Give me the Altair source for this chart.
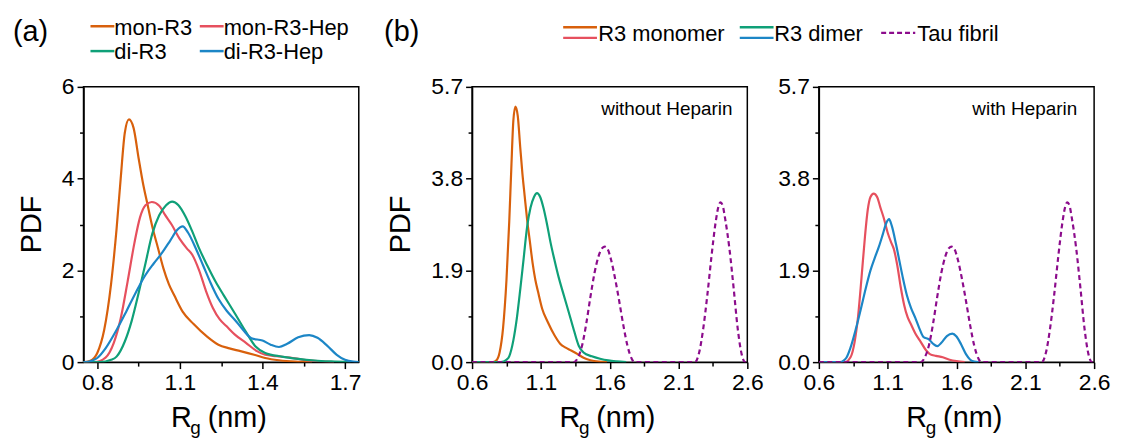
import json
import altair as alt
import pandas as pd

# ---------------- data ----------------
rg_mon = [0.60, 0.75, 0.775, 0.80, 0.825, 0.85, 0.87, 0.885, 0.90, 0.915, 0.932, 0.95, 0.966, 0.982,
          1.00, 1.02, 1.04, 1.06, 1.08, 1.11, 1.15, 1.20, 1.24, 1.28, 1.32, 1.37, 1.41, 1.46, 1.52, 1.58]
pdf_mon = [0, 0, 0.03, 0.2, 0.7, 1.7, 2.9, 4.0, 5.0, 5.29, 5.1, 4.45, 3.9, 3.45,
           2.95, 2.5, 2.05, 1.7, 1.45, 1.1, 0.83, 0.55, 0.38, 0.3, 0.24, 0.16, 0.09, 0.04, 0.01, 0]

rg_mon_hep = [0.60, 0.79, 0.83, 0.86, 0.885, 0.91, 0.935, 0.955, 0.975, 0.998, 1.025, 1.045, 1.07, 1.10,
              1.125, 1.145, 1.17, 1.195, 1.22, 1.245, 1.27, 1.30, 1.34, 1.38, 1.41, 1.45, 1.50, 1.55, 1.60, 1.66]
pdf_mon_hep = [0, 0, 0.1, 0.42, 0.95, 1.75, 2.6, 3.15, 3.42, 3.49, 3.41, 3.22, 3.0, 2.68,
               2.48, 2.34, 2.0, 1.55, 1.18, 0.93, 0.78, 0.6, 0.42, 0.24, 0.16, 0.13, 0.1, 0.05, 0.02, 0]

rg_di = [0.60, 0.81, 0.85, 0.87, 0.90, 0.925, 0.95, 0.975, 1.00, 1.025, 1.05, 1.072, 1.095, 1.12,
         1.145, 1.17, 1.20, 1.23, 1.26, 1.30, 1.34, 1.375, 1.41, 1.47, 1.53, 1.59, 1.65, 1.72]
pdf_di = [0, 0, 0.05, 0.12, 0.45, 0.9, 1.5, 2.15, 2.8, 3.2, 3.42, 3.5, 3.42, 3.18,
          2.85, 2.48, 2.1, 1.75, 1.45, 1.06, 0.66, 0.34, 0.2, 0.12, 0.07, 0.035, 0.015, 0]

rg_di_hep = [0.60, 0.755, 0.78, 0.80, 0.83, 0.87, 0.905, 0.94, 0.975, 1.005, 1.035, 1.065, 1.09, 1.11,
             1.13, 1.16, 1.185, 1.21, 1.24, 1.27, 1.30, 1.33, 1.36, 1.40, 1.43, 1.46, 1.49, 1.53,
             1.57, 1.60, 1.635, 1.67, 1.70, 1.73, 1.76]
pdf_di_hep = [0, 0, 0.03, 0.09, 0.3, 0.7, 1.1, 1.52, 1.9, 2.15, 2.38, 2.65, 2.88, 2.96,
              2.82, 2.45, 2.1, 1.75, 1.38, 1.12, 0.92, 0.7, 0.52, 0.47, 0.38, 0.33, 0.4, 0.54,
              0.59, 0.53, 0.36, 0.16, 0.05, 0.01, 0]

rg_fibril = [0.60, 1.34, 1.37, 1.40, 1.43, 1.46, 1.49, 1.52, 1.545, 1.565, 1.585, 1.61, 1.64, 1.67,
             1.70, 1.73, 1.76, 1.78, 2.22, 2.25, 2.28, 2.31, 2.34, 2.37, 2.39, 2.405, 2.42, 2.44,
             2.47, 2.50, 2.53, 2.56, 2.585, 2.60]
pdf_fibril = [0, 0, 0.1, 0.35, 0.8, 1.35, 1.85, 2.2, 2.36, 2.39, 2.34, 2.12, 1.72, 1.25,
              0.75, 0.33, 0.07, 0, 0, 0.2, 0.7, 1.4, 2.2, 2.9, 3.22, 3.31, 3.25, 2.95,
              2.35, 1.55, 0.7, 0.15, 0, 0]

a_x_ticks = [0.8, 0.95, 1.1, 1.25, 1.4, 1.55, 1.7]
a_x_major = [0.8, 1.1, 1.4, 1.7]
a_y_ticks = [0, 1, 2, 3, 4, 5, 6]
a_y_major = [0, 2, 4, 6]
b_x_ticks = [0.6, 0.85, 1.1, 1.35, 1.6, 1.85, 2.1, 2.35, 2.6]
b_x_major = [0.6, 1.1, 1.6, 2.1, 2.6]
b_y_ticks = [0, 0.95, 1.9, 2.85, 3.8, 4.75, 5.7]
b_y_major = [0, 1.9, 3.8, 5.7]

labels_a = ["mon-R3", "mon-R3-Hep", "di-R3", "di-R3-Hep"]
labels_b = ["R3 monomer", "R3 dimer", "Tau fibril"]

C_MON = "#D8600C"
C_MONH = "#E6505E"
C_DI = "#0FA078"
C_DIH = "#1C86C6"
C_FIB = "#8C0C8C"

FONT = "Liberation Sans"
W, H = 277, 277
ONE = pd.DataFrame({"k": [0]})
TICK_FS = 23
LEG_FS = 22
TITLE_FS = 29


def df(xs, ys):
    return pd.DataFrame({"rg": xs, "pdf": ys})


def axis(values, majors, fmt, orient):
    cond = "indexof(%s, datum.value) >= 0" % json.dumps(majors)
    return alt.Axis(values=values, title=None, format=fmt, orient=orient,
                    labelExpr=cond + " ? datum.label : ''",
                    tickSize={"condition": {"test": cond, "value": 6.5}, "value": 4},
                    labelFont=FONT, labelFontSize=TICK_FS, labelColor="black",
                    tickColor="black", tickWidth=1.5, domainColor="black", domainWidth=1.5,
                    grid=False, labelFlush=False, labelOverlap=False, labelPadding=3)


def curve(data, color, xdom, ydom, xax, yax, dash=None):
    kw = dict(color=color, strokeWidth=2.2, clip=True, interpolate="monotone")
    if dash:
        kw["strokeDash"] = dash
    return alt.Chart(data).mark_line(**kw).encode(
        x=alt.X("rg:Q", scale=alt.Scale(domain=xdom, nice=False, zero=False), axis=xax),
        y=alt.Y("pdf:Q", scale=alt.Scale(domain=ydom, nice=False, zero=False), axis=yax),
    )


def txt(s, x, y, size, align="left", baseline="middle", angle=0):
    return alt.Chart(ONE).mark_text(text=s, font=FONT, fontSize=size, align=align,
                                    baseline=baseline, angle=angle, color="black").encode(
        x=alt.value(x), y=alt.value(y))


def seg(x1, x2, y, color, dash=None, width=2.5):
    kw = dict(color=color, strokeWidth=width)
    if dash:
        kw["strokeDash"] = dash
    return alt.Chart(ONE).mark_rule(**kw).encode(x=alt.value(x1), x2=alt.value(x2), y=alt.value(y))


def rg_title():
    return [txt("R", 88, 342, TITLE_FS, baseline="alphabetic"),
            txt("g", 107.5, 349, 19, baseline="alphabetic"),
            txt("(nm)", 125, 342, TITLE_FS, baseline="alphabetic")]


frame = alt.ViewBackground(stroke="black", strokeWidth=1.5)

# ---------------- panel (a) ----------------
ax_a = axis(a_x_ticks, a_x_major, ".1f", "bottom")
ay_a = axis(a_y_ticks, a_y_major, "d", "left")
xd_a, yd_a = [0.75, 1.75], [0, 6]
panel_a = alt.layer(
    curve(df(rg_mon, pdf_mon), C_MON, xd_a, yd_a, ax_a, ay_a),
    curve(df(rg_mon_hep, pdf_mon_hep), C_MONH, xd_a, yd_a, ax_a, ay_a),
    curve(df(rg_di, pdf_di), C_DI, xd_a, yd_a, ax_a, ay_a),
    curve(df(rg_di_hep, pdf_di_hep), C_DIH, xd_a, yd_a, ax_a, ay_a),
    txt("(a)", -71, -55, 29),
    seg(7, 31, -61, C_MON), txt(labels_a[0], 31, -59, LEG_FS),
    seg(117, 141, -61, C_MONH), txt(labels_a[1], 141, -59, LEG_FS),
    seg(7, 31, -36, C_DI), txt(labels_a[2], 31, -35, LEG_FS),
    seg(117, 141, -36, C_DIH), txt(labels_a[3], 141, -35, LEG_FS),
    txt("PDF", -52, 138.5, TITLE_FS, align="center", angle=270),
    *rg_title(),
).properties(width=W, height=H, view=frame)

# ---------------- panel (b) ----------------
ax_b = axis(b_x_ticks, b_x_major, ".1f", "bottom")
ay_b = axis(b_y_ticks, b_y_major, ".1f", "left")
xd_b, yd_b = [0.6, 2.6], [0, 5.7]
FIB_DASH = [5, 3.5]

panel_bl = alt.layer(
    curve(df(rg_mon, pdf_mon), C_MON, xd_b, yd_b, ax_b, ay_b),
    curve(df(rg_di, pdf_di), C_DI, xd_b, yd_b, ax_b, ay_b),
    curve(df(rg_fibril, pdf_fibril), C_FIB, xd_b, yd_b, ax_b, ay_b, dash=FIB_DASH),
    txt("(b)", -88.5, -55, 29),
    seg(91.7, 125.7, -60, C_MON), seg(91.7, 125.7, -49.3, C_MONH),
    txt(labels_b[0], 127, -53, LEG_FS),
    seg(269.4, 303.4, -60, C_DI), seg(269.4, 303.4, -49.3, C_DIH),
    txt(labels_b[1], 304, -53, LEG_FS),
    seg(411.7, 446, -54.3, C_FIB, dash=[5, 3], width=2.3),
    txt(labels_b[2], 448, -53, LEG_FS),
    txt("without Heparin", 262, 22.5, 19, align="right"),
    txt("PDF", -71, 138.5, TITLE_FS, align="center", angle=270),
    *rg_title(),
).properties(width=W, height=H, view=frame)

panel_br = alt.layer(
    curve(df(rg_mon_hep, pdf_mon_hep), C_MONH, xd_b, yd_b, ax_b, ay_b),
    curve(df(rg_di_hep, pdf_di_hep), C_DIH, xd_b, yd_b, ax_b, ay_b),
    curve(df(rg_fibril, pdf_fibril), C_FIB, xd_b, yd_b, ax_b, ay_b, dash=FIB_DASH),
    txt("with Heparin", 260, 22.5, 19, align="right"),
    *rg_title(),
).properties(width=W, height=H, view=frame)


def spacer(w):
    return alt.Chart(ONE).mark_point(opacity=0).properties(
        width=w, height=H, view=alt.ViewBackground(stroke=None))


chart = alt.hconcat(
    panel_a, spacer(114), panel_bl, spacer(72), panel_br,
    spacing=0, bounds="flush",
).properties(
    padding={"left": 4, "top": 7, "right": 2, "bottom": 0},
).configure_view(stroke=None)

chart.save("out.html", embed_options={"renderer": "svg", "actions": False})
